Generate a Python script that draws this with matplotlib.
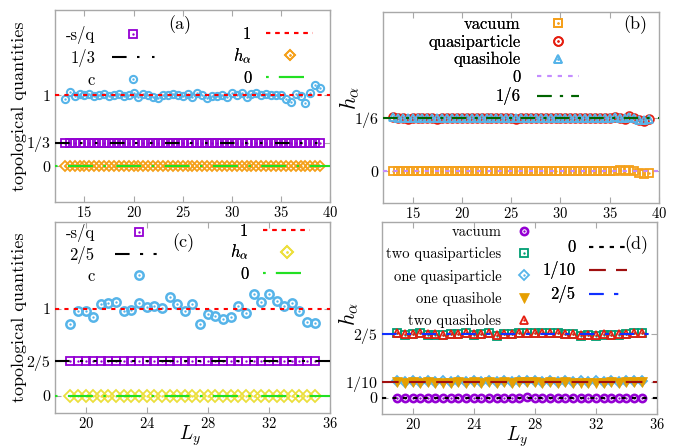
import matplotlib
matplotlib.use("Agg")
import matplotlib.pyplot as plt
import numpy as np

plt.rcParams['font.family'] = ['cmr10', 'DejaVu Serif']
plt.rcParams['mathtext.fontset'] = 'cm'
plt.rcParams['axes.formatter.use_mathtext'] = True

# ---- panel (a): nu = 1/3, Ly = 13 ... 39
ly_a = np.arange(13, 39.01, 0.5)
c_a = [0.95, 1.04, 0.99, 1.02, 1.01, 1.02, 0.99, 1.01, 1.02, 0.99,
       1.01, 1.02, 0.99, 1.00, 1.03, 0.98, 1.02, 1.01, 0.98, 0.96,
       1.00, 1.01, 1.02, 1.01, 0.99, 1.02, 0.97, 1.03, 1.00, 0.96,
       0.99, 0.99, 1.00, 0.97, 1.03, 1.01, 1.03, 0.98, 1.02, 1.03,
       1.00, 1.02, 1.01, 1.00, 1.01, 0.95, 0.90, 1.02, 0.99, 0.89,
       1.03, 1.15, 1.10]
sq_a = [1 / 3] * len(ly_a)
h_a = [0.0] * len(ly_a)

# ---- panel (b): conformal weights, Ly = 13 ... 39
ly_b = np.arange(13, 39.01, 0.5)
vac_b = [0.000, -0.001, 0.000, -0.001, 0.000, -0.001, 0.000, -0.001, 0.000, -0.001,
         0.000, -0.001, 0.000, 0.000, -0.001, 0.000, -0.001, 0.000, 0.000, -0.001,
         0.000, 0.000, -0.001, 0.000, 0.000, 0.001, 0.000, 0.000, 0.001, 0.000,
         0.000, 0.001, 0.000, 0.001, 0.000, 0.000, 0.001, 0.000, 0.000, 0.001,
         0.000, 0.001, 0.000, 0.000, 0.001, 0.000, 0.004, 0.001, 0.005, 0.002,
         -0.006, -0.009, -0.007]
qp_b = [0.170, 0.166, 0.167, 0.165, 0.167, 0.166, 0.168, 0.166, 0.167, 0.165,
        0.167, 0.166, 0.168, 0.166, 0.167, 0.166, 0.168, 0.167, 0.166, 0.168,
        0.166, 0.167, 0.168, 0.166, 0.167, 0.165, 0.167, 0.168, 0.166, 0.167,
        0.166, 0.168, 0.167, 0.166, 0.167, 0.168, 0.166, 0.167, 0.166, 0.168,
        0.167, 0.166, 0.167, 0.168, 0.166, 0.169, 0.168, 0.165, 0.172, 0.166,
        0.161, 0.159, 0.163]
qh_b = [0.169, 0.167, 0.167, 0.166, 0.167, 0.167, 0.168, 0.166, 0.167, 0.166,
        0.167, 0.167, 0.168, 0.166, 0.167, 0.167, 0.168, 0.167, 0.166, 0.168,
        0.167, 0.167, 0.168, 0.166, 0.167, 0.166, 0.167, 0.168, 0.167, 0.167,
        0.166, 0.168, 0.167, 0.167, 0.167, 0.168, 0.166, 0.167, 0.167, 0.168,
        0.167, 0.166, 0.167, 0.168, 0.167, 0.169, 0.168, 0.166, 0.171, 0.166,
        0.162, 0.160, 0.163]

# ---- panel (c): nu = 2/5, Ly = 19 ... 35
ly_c = np.arange(19, 35.01, 0.5)
c_c = [0.83, 0.98, 0.98, 0.91, 1.05, 1.07, 1.08, 0.97, 0.99, 1.07,
       1.02, 1.03, 1.01, 1.14, 1.06, 0.97, 1.06, 0.83, 0.94, 0.92,
       0.88, 0.90, 1.03, 0.95, 1.17, 1.08, 1.17, 1.09, 1.03, 1.07,
       0.97, 0.85, 0.84]
sq_c = [2 / 5] * len(ly_c)
h_c = [0.0] * len(ly_c)

# ---- panel (d): conformal weights, Ly = 19 ... 35
ly_d = np.arange(19, 35.01, 0.5)
vac_d = [0.002, 0.000, 0.001, -0.001, 0.000, -0.001, 0.000, -0.001, 0.000, 0.000,
         0.001, 0.000, 0.001, -0.001, 0.000, 0.000, 0.001, 0.004, 0.002, 0.001,
         0.002, 0.001, 0.000, 0.000, -0.002, -0.001, -0.003, -0.001, -0.002, -0.001,
         0.000, 0.002, 0.003]
two_qp_d = [0.404, 0.394, 0.400, 0.404, 0.394, 0.394, 0.394, 0.400, 0.400, 0.404,
            0.394, 0.400, 0.404, 0.388, 0.398, 0.400, 0.404, 0.408, 0.404, 0.404,
            0.404, 0.404, 0.400, 0.400, 0.388, 0.392, 0.388, 0.394, 0.394, 0.394,
            0.400, 0.408, 0.408]
one_qp_d = [0.106, 0.100, 0.106, 0.100, 0.106, 0.101, 0.105, 0.100, 0.106, 0.100,
            0.105, 0.101, 0.106, 0.100, 0.105, 0.100, 0.106, 0.107, 0.106, 0.101,
            0.106, 0.100, 0.105, 0.100, 0.104, 0.099, 0.105, 0.100, 0.105, 0.100,
            0.105, 0.106, 0.107]
one_qh_d = [0.098, 0.094, 0.098, 0.093, 0.097, 0.093, 0.096, 0.093, 0.098, 0.094,
            0.097, 0.093, 0.098, 0.094, 0.097, 0.094, 0.098, 0.099, 0.098, 0.093,
            0.098, 0.094, 0.097, 0.093, 0.096, 0.092, 0.096, 0.093, 0.097, 0.093,
            0.098, 0.099, 0.100]
two_qh_d = [0.406, 0.400, 0.401, 0.405, 0.397, 0.398, 0.396, 0.402, 0.401, 0.405,
            0.397, 0.402, 0.405, 0.392, 0.400, 0.401, 0.405, 0.409, 0.405, 0.405,
            0.405, 0.405, 0.402, 0.401, 0.392, 0.395, 0.391, 0.397, 0.396, 0.397,
            0.402, 0.409, 0.409]

PURPLE = '#9400d3'
SKY = '#56b4e9'
ORANGE = '#f5a01a'
GOLD = '#e69f00'
YELLOW = '#ecdf3c'
RED = '#e51e10'
TEAL = '#009e73'
FRAME = '#a8a8a8'


def points(ax, x, y, marker, color, ms, mew=1.3, dot=True, filled=False):
    """Open gnuplot-style point with a small dot in the middle."""
    mark, = ax.plot(x, y, ls='none', marker=marker, ms=ms,
                    mfc=color if filled else 'none', mec=color, mew=mew)
    if not dot:
        return mark
    centre, = ax.plot(x, y, ls='none', marker='o', ms=1.7,
                      mfc=color, mec=color, mew=0)
    return (mark, centre)


def hline(ax, y, color, dashes, lw=1.5):
    return ax.axhline(y, color=color, lw=lw, dashes=dashes, zorder=3)


def style(ax, xlim, ylim, xticks, yticks, ylabels):
    ax.set_xlim(*xlim)
    ax.set_ylim(*ylim)
    ax.set_xticks(xticks)
    ax.set_yticks(yticks)
    ax.set_yticklabels(ylabels, fontsize=11.5)
    ax.tick_params(axis='x', labelsize=10.5, pad=2)
    ax.tick_params(direction='in', top=True, right=True, length=4,
                   width=0.8, color=FRAME)
    for s in ax.spines.values():
        s.set_color(FRAME)
        s.set_linewidth(1.0)


def legend(ax, handles, labels, anchor, size, hlen, pad, spacing):
    leg = ax.legend(handles, labels, loc='upper right', bbox_to_anchor=anchor,
                    markerfirst=False, frameon=False, numpoints=1,
                    fontsize=size, handlelength=hlen, handletextpad=pad,
                    labelspacing=spacing, borderpad=0, borderaxespad=0)
    ax.add_artist(leg)
    return leg


fig = plt.figure(figsize=(6.78, 4.47), dpi=100)
ax_a = fig.add_axes([0.0811, 0.5481, 0.4056, 0.4295])
ax_b = fig.add_axes([0.5649, 0.5459, 0.4071, 0.4273])
ax_c = fig.add_axes([0.0811, 0.0761, 0.4056, 0.4273])
ax_d = fig.add_axes([0.5634, 0.0738, 0.4056, 0.4295])

# (a)
p_sq = points(ax_a, ly_a, sq_a, 's', PURPLE, 6.2)
p_c = points(ax_a, ly_a, c_a, 'o', SKY, 5.2, mew=1.5)
p_h = points(ax_a, ly_a, h_a, 'D', ORANGE, 5.6)
l_one = hline(ax_a, 1, 'red', (2, 2.5))
l_third = hline(ax_a, 1 / 3, 'black', (7, 5, 1.2, 6, 1.2, 6))
l_zero = hline(ax_a, 0, '#22e022', (1.2, 5, 12, 5))
style(ax_a, (12, 40), (-0.5, 2.2), range(15, 41, 5), [0, 1 / 3, 1],
      ['0', '1/3', '1'])
ax_a.set_ylabel('topological quantities', fontsize=13)
ax_a.yaxis.set_label_coords(-0.102, 0.5)
legend(ax_a, [p_sq, l_third, p_c], ['-s/q', '1/3', 'c'],
       (0.364, 0.915), 12, 2.6, 1.0, 0.3)
legend(ax_a, [l_one, p_h, l_zero], ['1', r'$h_\alpha$', '0'],
       (0.938, 0.915), 12, 2.8, 0.9, 0.3)
ax_a.text(0.455, 0.922, '(a)', transform=ax_a.transAxes, fontsize=13,
          ha='center', va='center')

# (b)
p_vac = points(ax_b, ly_b, vac_b, 's', ORANGE, 6.0)
p_qp = points(ax_b, ly_b, qp_b, 'o', RED, 6.3)
p_qh = points(ax_b, ly_b, qh_b, '^', SKY, 5.2)
l_b0 = hline(ax_b, 0, '#c48cff', (2, 3))
l_b6 = hline(ax_b, 1 / 6, '#006400', (7, 4, 1.5, 4))
style(ax_b, (12, 40), (-0.1, 0.5), range(15, 41, 5), [0, 1 / 6],
      ['0', '1/6'])
ax_b.set_ylabel(r'$h_\alpha$', fontsize=16)
ax_b.yaxis.set_label_coords(-0.075, 0.55)
legend(ax_b, [p_vac, p_qp, p_qh, l_b0, l_b6],
       ['vacuum', 'quasiparticle', 'quasihole', '0', '1/6'],
       (0.71, 0.975), 12, 2.5, 1.0, 0.14)
ax_b.text(0.913, 0.932, '(b)', transform=ax_b.transAxes, fontsize=13,
          ha='center', va='center')

# (c)
p_sq = points(ax_c, ly_c, sq_c, 's', PURPLE, 6.2)
p_c = points(ax_c, ly_c, c_c, 'o', SKY, 6.0, mew=1.8)
p_h = points(ax_c, ly_c, h_c, 'D', YELLOW, 5.8)
l_one = hline(ax_c, 1, 'red', (2, 2.5))
l_two5 = hline(ax_c, 2 / 5, 'black', (7, 5, 1.5, 5, 1.5, 5))
l_zero = hline(ax_c, 0, '#22e022', (1.2, 5, 12, 5))
style(ax_c, (18, 36), (-0.2, 2.0), range(20, 37, 4), [0, 2 / 5, 1],
      ['0', '2/5', '1'])
ax_c.set_ylabel('topological quantities', fontsize=13)
ax_c.yaxis.set_label_coords(-0.102, 0.5)
ax_c.set_xlabel(r'$L_y$', fontsize=14)
ax_c.xaxis.set_label_coords(0.49, -0.056)
legend(ax_c, [p_sq, l_two5, p_c], ['-s/q', '2/5', 'c'],
       (0.393, 0.99), 12, 2.9, 1.2, 0.25)
legend(ax_c, [l_one, p_h, l_zero], ['1', r'$h_\alpha$', '0'],
       (0.927, 0.99), 12, 2.8, 0.9, 0.25)
ax_c.text(0.466, 0.89, '(c)', transform=ax_c.transAxes, fontsize=13,
          ha='center', va='center')

# (d)
p_vac = points(ax_d, ly_d, vac_d, 'o', PURPLE, 5.2, mew=1.9)
p_2qp = points(ax_d, ly_d, two_qp_d, 's', TEAL, 6.0)
p_1qp = points(ax_d, ly_d, one_qp_d, 'D', SKY, 5.0)
p_1qh = points(ax_d, ly_d, one_qh_d, 'v', GOLD, 6.5, mew=0.5, dot=False,
               filled=True)
p_2qh = points(ax_d, ly_d, two_qh_d, '^', RED, 5.2)
l_d0 = hline(ax_d, 0, 'black', (2, 3))
l_d10 = hline(ax_d, 1 / 10, '#a01010', (8, 5))
l_d25 = hline(ax_d, 2 / 5, '#1030ff', (7, 5, 2, 5))
style(ax_d, (18, 36), (-0.1, 1.1), range(20, 37, 4), [0, 1 / 10, 2 / 5],
      ['0', '1/10', '2/5'])
ax_d.set_ylabel(r'$h_\alpha$', fontsize=16)
ax_d.yaxis.set_label_coords(-0.075, 0.52)
ax_d.set_xlabel(r'$L_y$', fontsize=14)
ax_d.xaxis.set_label_coords(0.49, -0.052)
legend(ax_d, [p_vac, p_2qp, p_1qp, p_1qh, p_2qh],
       ['vacuum', 'two quasiparticles', 'one quasiparticle',
        'one quasihole', 'two quasiholes'],
       (0.556, 0.985), 10.5, 1.5, 0.8, 0.58)
legend(ax_d, [l_d0, l_d10, l_d25], ['0', '1/10', '2/5'],
       (0.891, 0.906), 12, 2.3, 0.8, 0.36)
ax_d.text(0.924, 0.88, '(d)', transform=ax_d.transAxes, fontsize=13,
          ha='center', va='center')

fig.savefig('out.png', dpi=100)
